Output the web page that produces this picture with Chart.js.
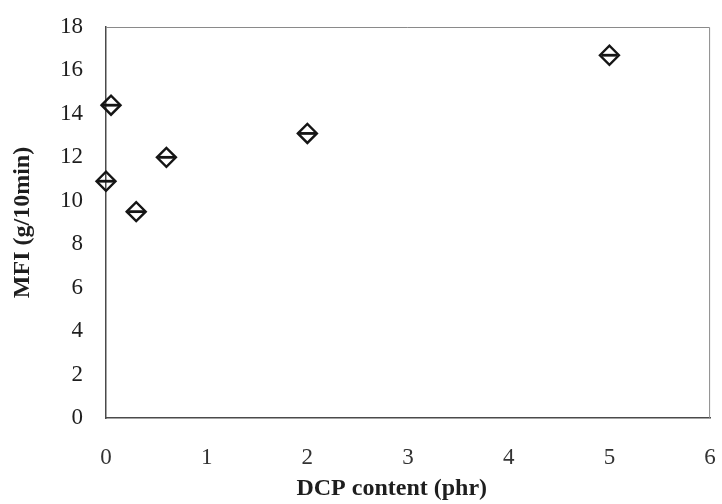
<!DOCTYPE html>
<html>
<head>
<meta charset="utf-8">
<script src="https://cdn.jsdelivr.net/npm/chart.js@4.4.1/dist/chart.umd.min.js"></script>
<style>
  html, body { margin: 0; padding: 0; background: #fff; }
  #wrap { width: 722px; height: 504px; }
</style>
</head>
<body>
<div id="wrap"><canvas id="mfiChart"></canvas></div>
<script>
// MFI vs DCP content
const dcpContent = [0, 0.05, 0.3, 0.6, 2, 5];
const mfiValues = [10.9, 14.4, 9.5, 12.0, 13.1, 16.7];
const xTicks = [0, 1, 2, 3, 4, 5, 6];
const yTicks = [0, 2, 4, 6, 8, 10, 12, 14, 16, 18];
const xTitle = 'DCP content (phr)';
const yTitle = 'MFI (g/10min)';

const points = dcpContent.map((x, i) => ({ x: x, y: mfiValues[i] }));

Chart.defaults.font.family = '"Liberation Serif", "Times New Roman", serif';
Chart.defaults.color = '#1e1e1e';

// light frame on the top and right of the plot area
const frame = {
    id: 'frame',
    beforeDatasetsDraw(chart) {
        const { ctx, chartArea: a } = chart;
        ctx.save();
        ctx.strokeStyle = '#8a8a8a';
        ctx.lineWidth = 1;
        ctx.beginPath();
        ctx.moveTo(a.left, a.top + 0.5);
        ctx.lineTo(a.right - 0.5, a.top + 0.5);
        ctx.lineTo(a.right - 0.5, a.bottom);
        ctx.stroke();
        ctx.restore();
    },
    // x caption sits a bit left of the plot centre
    afterDraw(chart) {
        const { ctx, chartArea: a } = chart;
        ctx.save();
        ctx.font = 'bold 24px "Liberation Serif", serif';
        ctx.fillStyle = '#1e1e1e';
        ctx.textAlign = 'center';
        ctx.textBaseline = 'middle';
        ctx.fillText(xTitle, a.left + a.width * 0.473, 489);
        ctx.restore();
    }
};

const ctx = document.getElementById('mfiChart').getContext('2d');
const mfiChart = new Chart(ctx, {
    type: 'scatter',
    data: {
        datasets: [{
            data: points,
            clip: false,
            pointStyle: 'rectRot',
            pointRadius: 9.5,
            pointHoverRadius: 9.5,
            pointBorderWidth: 2.4,
            pointBackgroundColor: 'rgba(255,255,255,0)',
            pointBorderColor: '#151515'
        }, {
            // bar across each diamond
            data: points,
            clip: false,
            pointStyle: 'line',
            pointRadius: 8,
            pointHoverRadius: 8,
            pointBorderWidth: 2.8,
            pointBorderColor: '#151515'
        }]
    },
    options: {
        responsive: true,
        maintainAspectRatio: false,
        animation: false,
        layout: { padding: { top: 27, right: 7, left: 0, bottom: 0 } },
        scales: {
            x: {
                type: 'linear',
                min: 0,
                max: 6,
                afterBuildTicks: s => { s.ticks = xTicks.map(v => ({ value: v })); },
                afterFit: s => {
                    s.height = 86;
                    s.paddingLeft = 0;
                    s.paddingRight = 0;
                },
                grid: { display: false, drawTicks: false },
                border: { display: true, color: '#4a4a4a', width: 1.5 },
                ticks: { font: { size: 23 }, padding: 26, color: '#333' },
                title: { display: false }
            },
            y: {
                min: 0,
                max: 18,
                afterBuildTicks: s => { s.ticks = yTicks.map(v => ({ value: v })); },
                afterFit: s => {
                    s.width = 106;
                    s.paddingTop = 0;
                    s.paddingBottom = 0;
                },
                grid: { display: false, drawTicks: false },
                border: { display: true, color: '#4a4a4a', width: 1.5 },
                ticks: { font: { size: 23 }, padding: 23, color: '#1e1e1e' },
                title: {
                    display: true,
                    text: yTitle,
                    font: { size: 24, weight: 'bold' },
                    padding: { top: 8, bottom: 0 }
                }
            }
        },
        plugins: {
            legend: { display: false },
            tooltip: { enabled: false }
        }
    },
    plugins: [frame]
});
</script>
</body>
</html>
